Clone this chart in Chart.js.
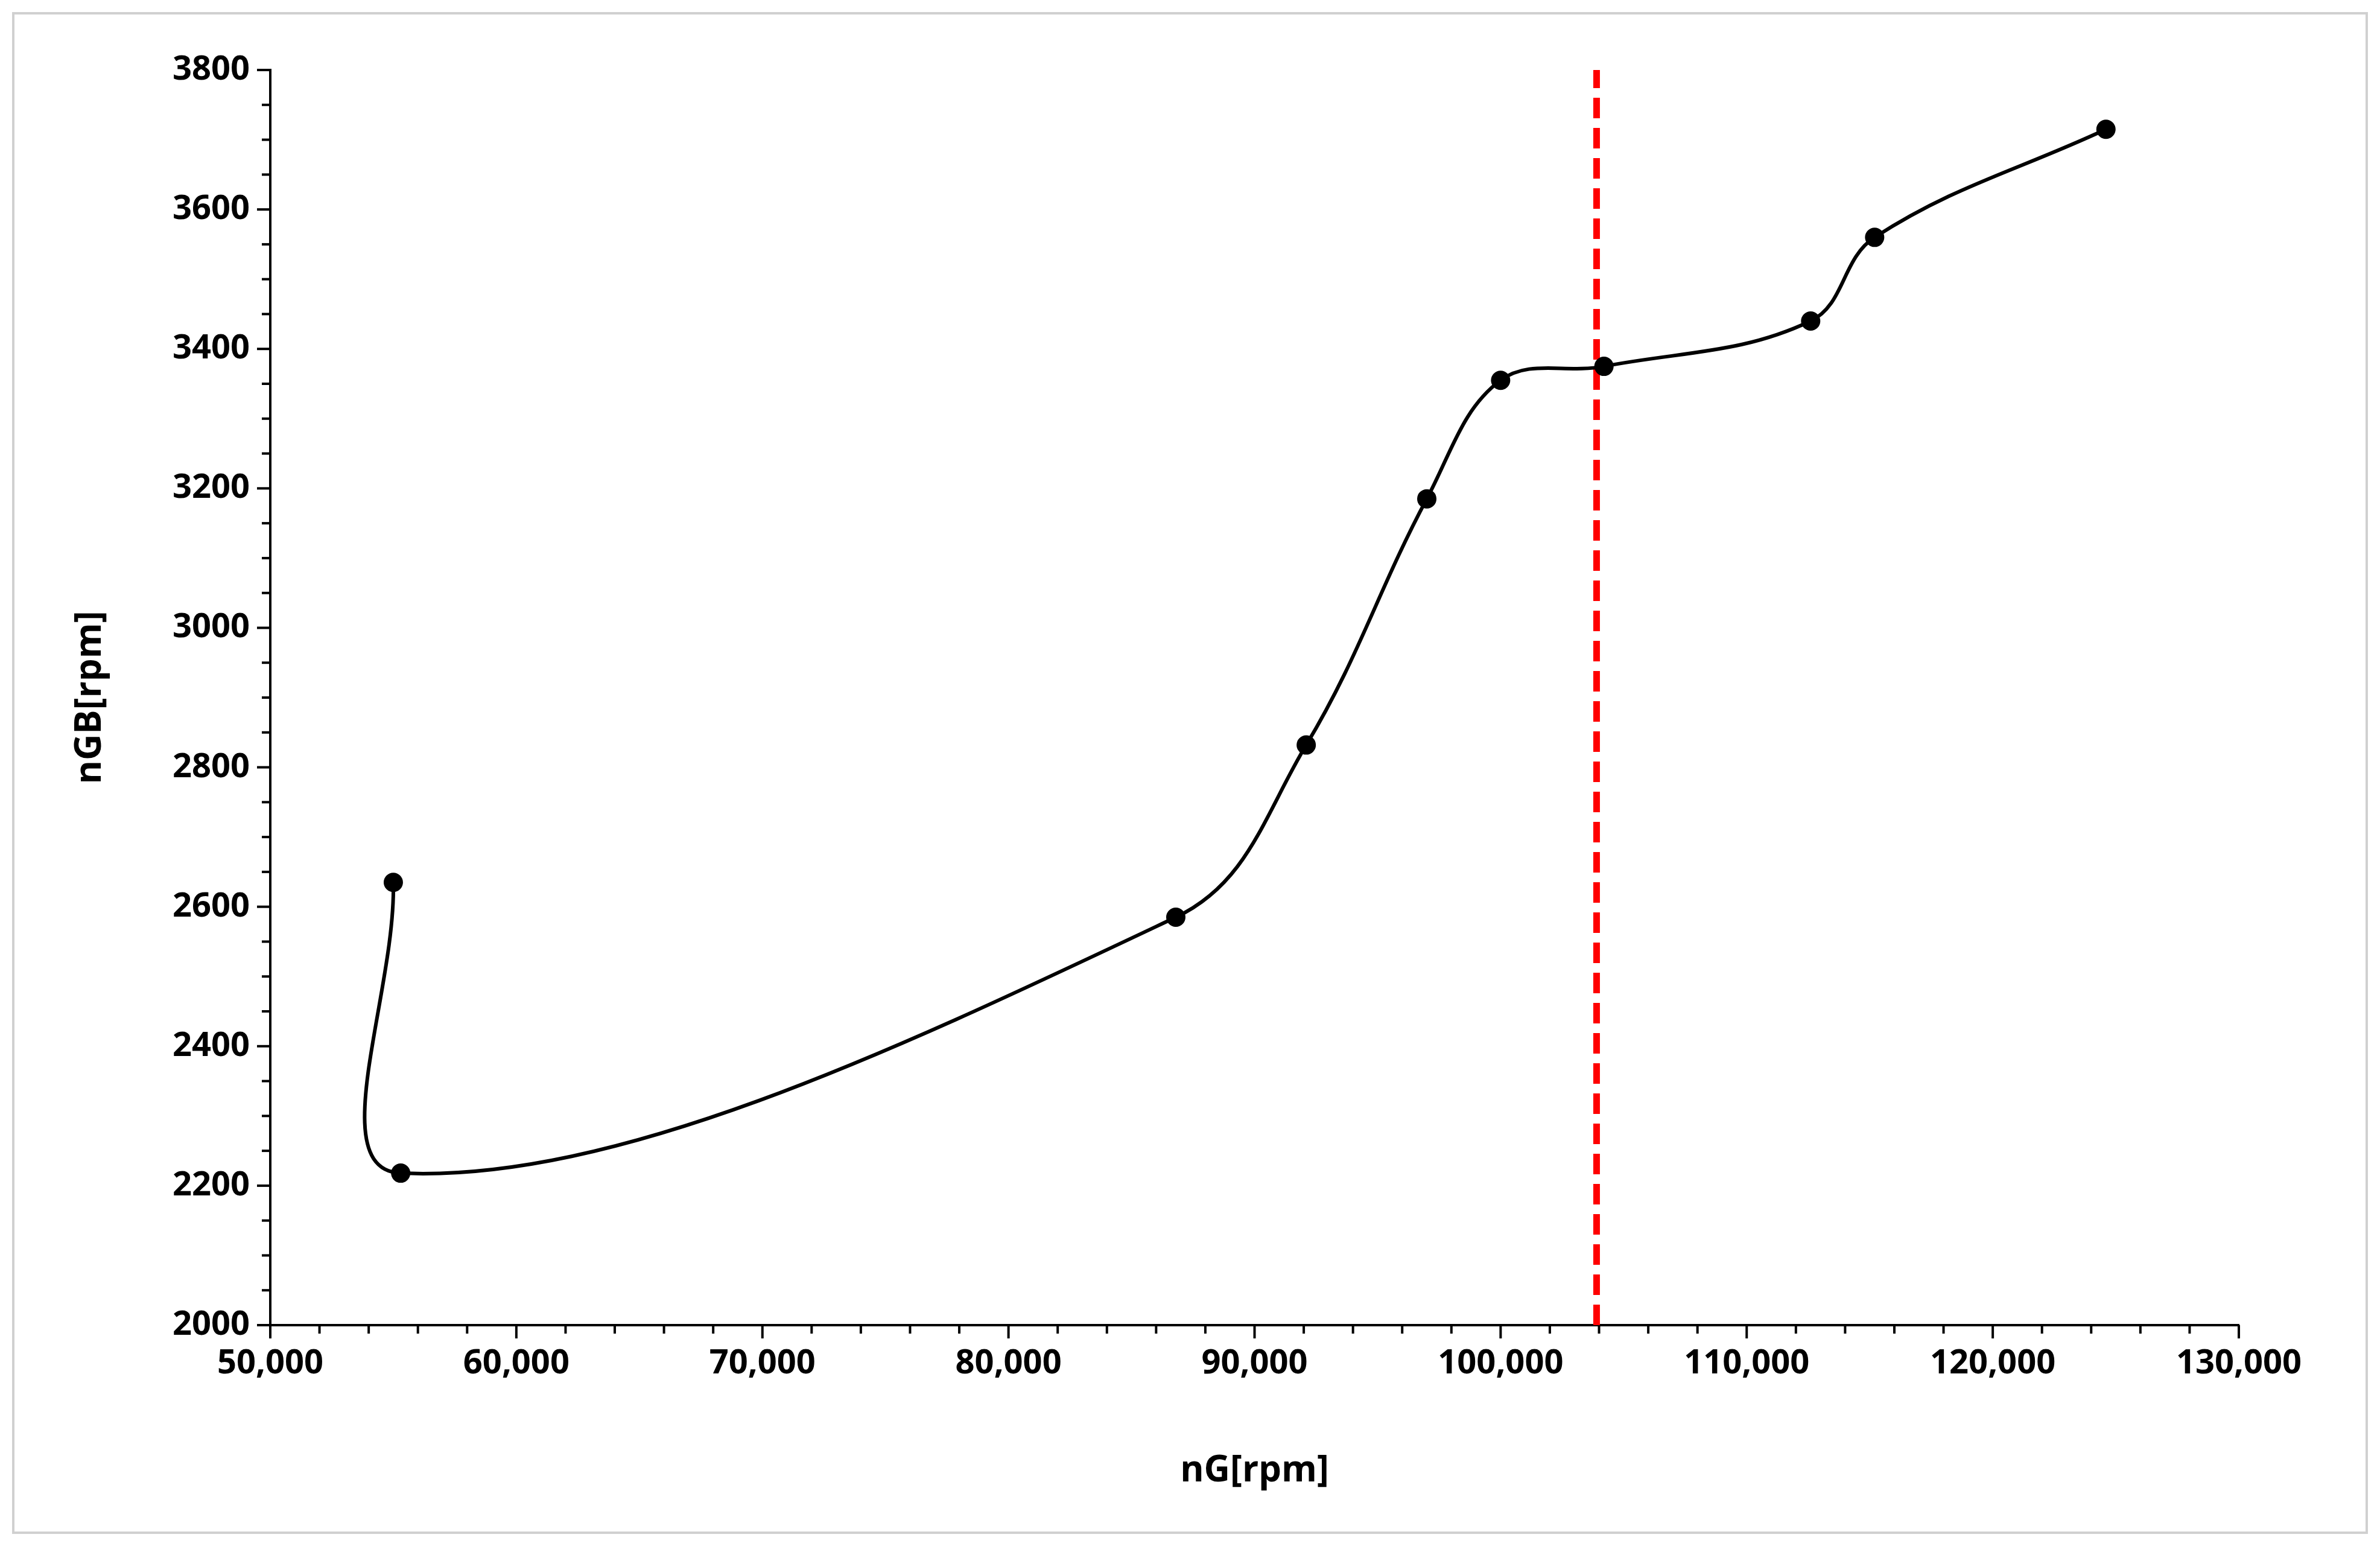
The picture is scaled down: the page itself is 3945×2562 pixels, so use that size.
<!DOCTYPE html>
<html><head><meta charset="utf-8">
<script src="https://cdn.jsdelivr.net/npm/chart.js@4"></script>
<style>html,body{margin:0;padding:0;background:#fff}</style>
</head><body>
<canvas id="c" width="3945" height="2562" style="width:3945px;height:2562px"></canvas>
<script>
const nG = [55000, 55300, 86800, 92100, 97000, 100000, 104200, 112600, 115200, 124600];
const nGB = [2635, 2218, 2585, 2832, 3185, 3355, 3375, 3440, 3560, 3715];
const limitX = [103900, 103900];
const limitY = [2000, 3800];

const FONT = '"Open Sans", "Liberation Sans", Arial, sans-serif';
const extras = {
  id: 'extras',
  beforeDraw(chart) {
    const c = chart.ctx;
    c.save(); c.fillStyle = '#fff'; c.fillRect(0,0,chart.width,chart.height);
    c.strokeStyle = '#d0d0d0'; c.lineWidth = 4; c.strokeRect(22,22,chart.width-44,chart.height-44);
    c.restore();
  },
  afterDraw(chart) {
    const c = chart.ctx, xs = chart.scales.x, ys = chart.scales.y, a = chart.chartArea;
    c.save(); c.strokeStyle = '#000'; c.lineWidth = 4;
    for (let v = 2000; v <= 3800; v += 50) {
      const y = ys.getPixelForValue(v), len = v % 200 === 0 ? 22 : 14;
      c.beginPath(); c.moveTo(a.left - len, y); c.lineTo(a.left, y); c.stroke();
    }
    for (let v = 50000; v <= 130000; v += 2000) {
      const x = xs.getPixelForValue(v), len = v % 10000 === 0 ? 22 : 14;
      c.beginPath(); c.moveTo(x, a.bottom); c.lineTo(x, a.bottom + len); c.stroke();
    }
    c.restore();
  }
};

new Chart(document.getElementById('c'), {
  type: 'scatter',
  data: { datasets: [
    { data: nG.map((x,i)=>({x, y:nGB[i]})), showLine: true, tension: 0.38,
      borderColor: '#000', backgroundColor: '#000', borderWidth: 6, pointRadius: 13, pointHoverRadius: 13 },
    { data: limitX.map((x,i)=>({x, y:limitY[i]})), showLine: true, borderColor: '#ff0000',
      borderWidth: 11, borderDash: [34, 16], pointRadius: 0 }
  ]},
  plugins: [extras],
  options: {
    responsive: false, animation: false, devicePixelRatio: 1,
    layout: { padding: { left: 110, top: 116, right: 234, bottom: 84 } },
    plugins: { legend: { display: false }, tooltip: { enabled: false } },
    scales: {
      x: { type: 'linear', min: 50000, max: 130000,
        ticks: { stepSize: 10000, color: '#000', font: { family: FONT, size: 56, weight: 'bold' }, padding: 30,
          callback: v => v.toLocaleString('en-US'), maxRotation: 0 },
        grid: { display: false, drawTicks: false }, border: { color: '#000', width: 4 },
        title: { display: true, text: 'nG[rpm]', color: '#000', font: { family: FONT, size: 60, weight: 'bold' }, padding: { top: 10 } },
        afterFit(s) { s.height = 282; } },
      y: { min: 2000, max: 3800,
        ticks: { stepSize: 200, color: '#000', font: { family: FONT, size: 56, weight: 'bold' }, padding: 34,
          callback: v => String(v) },
        grid: { display: false, drawTicks: false }, border: { color: '#000', width: 4 },
        title: { display: true, text: 'nGB[rpm]', color: '#000', font: { family: FONT, size: 60, weight: 'bold' }, padding: { bottom: 20 } },
        afterFit(s) { s.width = 448 - 110; } }
    }
  }
});
</script></body></html>
